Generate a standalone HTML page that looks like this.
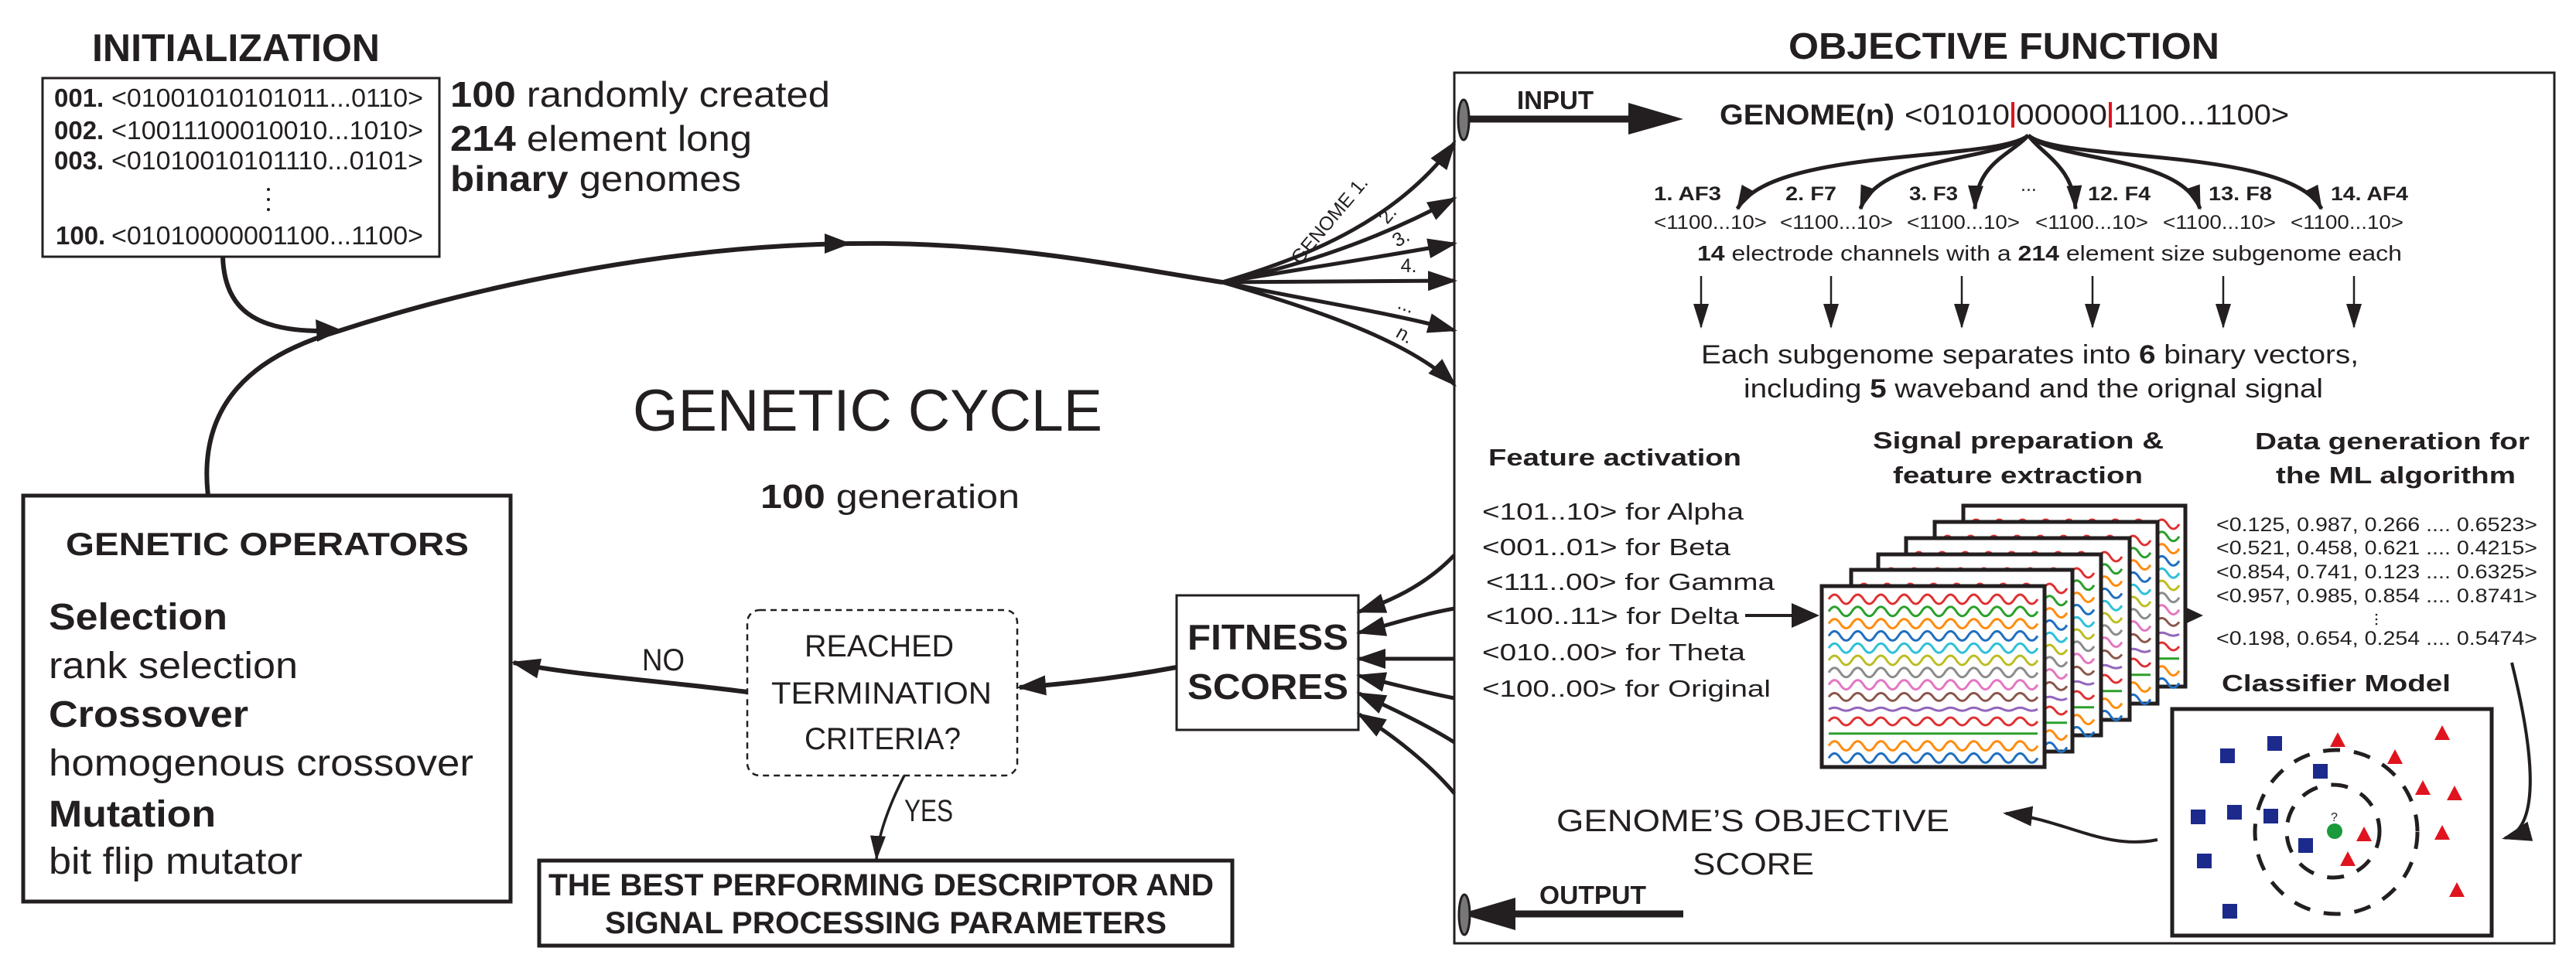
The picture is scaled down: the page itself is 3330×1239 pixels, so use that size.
<!DOCTYPE html>
<html><head><meta charset="utf-8"><style>
html,body{margin:0;padding:0;background:#fff;}
svg{display:block;}
text{font-family:"Liberation Sans",sans-serif;fill:#231f20;}
.b{font-weight:bold;}
</style></head><body>
<svg width="3330" height="1239" viewBox="0 0 3330 1239" xmlns="http://www.w3.org/2000/svg">
<defs>
<marker id="ah" markerUnits="userSpaceOnUse" markerWidth="40" markerHeight="26" refX="34" refY="13" orient="auto"><path d="M0,0 L38,13 L0,26 z" fill="#231f20"/></marker>
<marker id="as" markerUnits="userSpaceOnUse" markerWidth="34" markerHeight="20" refX="30" refY="10" orient="auto"><path d="M0,0 L32,10 L0,20 z" fill="#231f20"/></marker>
<g id="waves" fill="none" stroke-width="3">
<path stroke="#e03030" d="M0,0 q7.5,-12 15,0 t15,0 t15,0 t15,0 t15,0 t15,0 t15,0 t15,0 t15,0 t15,0 t15,0 t15,0 t15,0 t15,0 t15,0 t15,0 t15,0 t15,0"/>
<path stroke="#2ca02c" transform="translate(0,15.8)" d="M0,0 q7.5,-12 15,0 t15,0 t15,0 t15,0 t15,0 t15,0 t15,0 t15,0 t15,0 t15,0 t15,0 t15,0 t15,0 t15,0 t15,0 t15,0 t15,0 t15,0"/>
<path stroke="#ff8c10" transform="translate(0,31.6)" d="M0,0 q7.5,-12 15,0 t15,0 t15,0 t15,0 t15,0 t15,0 t15,0 t15,0 t15,0 t15,0 t15,0 t15,0 t15,0 t15,0 t15,0 t15,0 t15,0 t15,0"/>
<path stroke="#1f6fc0" transform="translate(0,47.4)" d="M0,0 q7.5,-12 15,0 t15,0 t15,0 t15,0 t15,0 t15,0 t15,0 t15,0 t15,0 t15,0 t15,0 t15,0 t15,0 t15,0 t15,0 t15,0 t15,0 t15,0"/>
<path stroke="#30c0d8" transform="translate(0,63.2)" d="M0,0 q7.5,-12 15,0 t15,0 t15,0 t15,0 t15,0 t15,0 t15,0 t15,0 t15,0 t15,0 t15,0 t15,0 t15,0 t15,0 t15,0 t15,0 t15,0 t15,0"/>
<path stroke="#bcbd22" transform="translate(0,79)" d="M0,0 q7.5,-12 15,0 t15,0 t15,0 t15,0 t15,0 t15,0 t15,0 t15,0 t15,0 t15,0 t15,0 t15,0 t15,0 t15,0 t15,0 t15,0 t15,0 t15,0"/>
<path stroke="#8c8c8c" transform="translate(0,94.8)" d="M0,0 q7.5,-12 15,0 t15,0 t15,0 t15,0 t15,0 t15,0 t15,0 t15,0 t15,0 t15,0 t15,0 t15,0 t15,0 t15,0 t15,0 t15,0 t15,0 t15,0"/>
<path stroke="#e377c2" transform="translate(0,110.6)" d="M0,0 q7.5,-12 15,0 t15,0 t15,0 t15,0 t15,0 t15,0 t15,0 t15,0 t15,0 t15,0 t15,0 t15,0 t15,0 t15,0 t15,0 t15,0 t15,0 t15,0"/>
<path stroke="#8c564b" transform="translate(0,126.4)" d="M0,0 q7.5,-10 15,0 t15,0 t15,0 t15,0 t15,0 t15,0 t15,0 t15,0 t15,0 t15,0 t15,0 t15,0 t15,0 t15,0 t15,0 t15,0 t15,0 t15,0"/>
<path stroke="#9467bd" transform="translate(0,142.2)" d="M0,0 q7.5,-4 15,0 t15,0 t15,0 t15,0 t15,0 t15,0 t15,0 t15,0 t15,0 t15,0 t15,0 t15,0 t15,0 t15,0 t15,0 t15,0 t15,0 t15,0"/>
<path stroke="#e03030" transform="translate(0,158)" d="M0,0 q7.5,-10 15,0 t15,0 t15,0 t15,0 t15,0 t15,0 t15,0 t15,0 t15,0 t15,0 t15,0 t15,0 t15,0 t15,0 t15,0 t15,0 t15,0 t15,0"/>
<path stroke="#2ca02c" transform="translate(0,173.8)" d="M0,0 L270,0"/>
<path stroke="#ff8c10" transform="translate(0,189.6)" d="M0,0 q7.5,-12 15,0 t15,0 t15,0 t15,0 t15,0 t15,0 t15,0 t15,0 t15,0 t15,0 t15,0 t15,0 t15,0 t15,0 t15,0 t15,0 t15,0 t15,0"/>
<path stroke="#1f6fc0" transform="translate(0,205.4)" d="M0,0 q7.5,-12 15,0 t15,0 t15,0 t15,0 t15,0 t15,0 t15,0 t15,0 t15,0 t15,0 t15,0 t15,0 t15,0 t15,0 t15,0 t15,0 t15,0 t15,0"/>
</g>
</defs>

<!-- INITIALIZATION -->
<text class="b" x="119" y="79" font-size="50" textLength="372" lengthAdjust="spacingAndGlyphs">INITIALIZATION</text>
<rect x="55" y="101" width="513" height="231" fill="none" stroke="#231f20" stroke-width="3"/>
<g font-size="33">
<text class="b" x="70" y="138">001.</text><text x="144" y="138" textLength="403" lengthAdjust="spacingAndGlyphs">&lt;01001010101011...0110&gt;</text>
<text class="b" x="70" y="180">002.</text><text x="144" y="180" textLength="403" lengthAdjust="spacingAndGlyphs">&lt;10011100010010...1010&gt;</text>
<text class="b" x="70" y="219">003.</text><text x="144" y="219" textLength="403" lengthAdjust="spacingAndGlyphs">&lt;01010010101110...0101&gt;</text>
<text class="b" x="72" y="316">100.</text><text x="144" y="316" textLength="403" lengthAdjust="spacingAndGlyphs">&lt;01010000001100...1100&gt;</text>
</g>
<g fill="#231f20"><circle cx="347" cy="245" r="2"/><circle cx="347" cy="258" r="2"/><circle cx="347" cy="271" r="2"/></g>
<g font-size="46">
<text x="582" y="138" textLength="491" lengthAdjust="spacingAndGlyphs"><tspan class="b">100</tspan> randomly created</text>
<text x="582" y="195" textLength="390" lengthAdjust="spacingAndGlyphs"><tspan class="b">214</tspan> element long</text>
<text x="582" y="247" textLength="376" lengthAdjust="spacingAndGlyphs"><tspan class="b">binary</tspan> genomes</text>
</g>

<!-- cycle -->
<g fill="none" stroke="#231f20" stroke-width="6">
<path d="M288,332 C290,400 330,428 415,428"/>
<path d="M269,641 C255,520 330,460 435,429 C600,375 850,318 1100,315 C1300,312 1450,345 1580,365"/>
</g>
<polygon points="442,427 408,413 410,442" fill="#231f20"/>
<polygon points="1100,315 1066,302 1066,328" fill="#231f20"/>
<g fill="none" stroke="#231f20" stroke-width="5" marker-end="url(#ah)">
<path d="M1580,365 C1700,330 1810,280 1880,185"/>
<path d="M1580,365 C1700,340 1800,300 1880,257"/>
<path d="M1580,365 C1700,345 1800,330 1880,315"/>
<path d="M1580,365 L1880,363"/>
<path d="M1580,365 C1700,390 1800,405 1880,427"/>
<path d="M1580,365 C1700,400 1820,440 1880,497"/>
</g>
<g font-size="25">
<text transform="translate(1725,290) rotate(-50)" text-anchor="middle">GENOME 1.</text>
<text transform="translate(1800,283) rotate(-50)" text-anchor="middle">2.</text>
<text transform="translate(1815,315) rotate(-30)" text-anchor="middle">3.</text>
<text x="1821" y="352" text-anchor="middle">4.</text>
<text transform="translate(1815,402) rotate(20)" text-anchor="middle">...</text>
<text transform="translate(1812,440) rotate(30)" text-anchor="middle">n.</text>
</g>
<text x="818" y="557" font-size="76" textLength="607" lengthAdjust="spacingAndGlyphs">GENETIC CYCLE</text>
<text x="983" y="657" font-size="44" textLength="335" lengthAdjust="spacingAndGlyphs"><tspan class="b">100</tspan> generation</text>

<!-- genetic operators -->
<rect x="30" y="641" width="630" height="525" fill="none" stroke="#231f20" stroke-width="5"/>
<text class="b" x="85" y="718" font-size="42" textLength="521" lengthAdjust="spacingAndGlyphs">GENETIC OPERATORS</text>
<g font-size="48">
<text class="b" x="63" y="814" textLength="231" lengthAdjust="spacingAndGlyphs">Selection</text>
<text x="63" y="877" textLength="322" lengthAdjust="spacingAndGlyphs">rank selection</text>
<text class="b" x="63" y="940" textLength="258" lengthAdjust="spacingAndGlyphs">Crossover</text>
<text x="63" y="1003" textLength="549" lengthAdjust="spacingAndGlyphs">homogenous crossover</text>
<text class="b" x="63" y="1069" textLength="216" lengthAdjust="spacingAndGlyphs">Mutation</text>
<text x="63" y="1130" textLength="328" lengthAdjust="spacingAndGlyphs">bit flip mutator</text>
</g>

<!-- termination -->
<rect x="966" y="789" width="349" height="214" rx="16" fill="none" stroke="#231f20" stroke-width="2.5" stroke-dasharray="8 6"/>
<g font-size="40">
<text x="1040" y="849" textLength="193" lengthAdjust="spacingAndGlyphs">REACHED</text>
<text x="997" y="910" textLength="285" lengthAdjust="spacingAndGlyphs">TERMINATION</text>
<text x="1040" y="969" textLength="202" lengthAdjust="spacingAndGlyphs">CRITERIA?</text>
<text x="830" y="867" textLength="55" lengthAdjust="spacingAndGlyphs">NO</text>
<text x="1169" y="1062" textLength="63" lengthAdjust="spacingAndGlyphs">YES</text>
</g>
<g fill="none" stroke="#231f20" stroke-width="6" marker-end="url(#ah)">
<path d="M966,895 C850,880 730,872 664,857"/>
<path d="M1521,863 C1440,878 1370,885 1318,889"/>
</g>
<path d="M1169,1003 C1150,1040 1135,1080 1133,1111" fill="none" stroke="#231f20" stroke-width="3.5" marker-end="url(#as)"/>

<!-- best box -->
<rect x="697" y="1113" width="896" height="110" fill="none" stroke="#231f20" stroke-width="5"/>
<g class="b" font-size="40" font-weight="bold">
<text x="709" y="1158" textLength="860" lengthAdjust="spacingAndGlyphs">THE BEST PERFORMING DESCRIPTOR AND</text>
<text x="782" y="1207" textLength="726" lengthAdjust="spacingAndGlyphs">SIGNAL PROCESSING PARAMETERS</text>
</g>

<!-- fitness -->
<rect x="1521" y="770" width="235" height="174" fill="none" stroke="#231f20" stroke-width="3"/>
<text class="b" x="1535" y="840" font-size="46" textLength="208" lengthAdjust="spacingAndGlyphs">FITNESS</text>
<text class="b" x="1535" y="904" font-size="46" textLength="208" lengthAdjust="spacingAndGlyphs">SCORES</text>
<g fill="none" stroke="#231f20" stroke-width="5" marker-end="url(#ah)">
<path d="M1880,718 C1840,760 1790,780 1757,791"/>
<path d="M1880,787 C1830,796 1790,810 1757,818"/>
<path d="M1880,852 L1757,852"/>
<path d="M1880,903 C1830,893 1790,882 1757,874"/>
<path d="M1880,960 C1840,935 1790,912 1757,897"/>
<path d="M1880,1026 C1850,990 1800,950 1757,924"/>
</g>

<!-- OBJECTIVE FUNCTION -->
<text class="b" x="2312" y="76" font-size="48" textLength="557" lengthAdjust="spacingAndGlyphs">OBJECTIVE FUNCTION</text>
<rect x="1880" y="94" width="1422" height="1126" fill="none" stroke="#231f20" stroke-width="3"/>
<line x1="1892" y1="154" x2="2110" y2="154" stroke="#231f20" stroke-width="9"/>
<polygon points="2176,154 2105,133 2105,174" fill="#231f20"/>
<ellipse cx="1892" cy="155" rx="7" ry="26" fill="#777" stroke="#231f20" stroke-width="3"/>
<text class="b" x="1961" y="141" font-size="33" textLength="99" lengthAdjust="spacingAndGlyphs">INPUT</text>
<text class="b" x="2223" y="161" font-size="37" textLength="226" lengthAdjust="spacingAndGlyphs">GENOME(n)</text>
<text x="2462" y="161" font-size="37" textLength="136" lengthAdjust="spacingAndGlyphs">&lt;01010</text>
<text x="2606" y="161" font-size="37" textLength="118" lengthAdjust="spacingAndGlyphs">00000</text>
<text x="2732" y="161" font-size="37" textLength="227" lengthAdjust="spacingAndGlyphs">1100...1100&gt;</text>
<rect x="2600" y="132" width="4" height="33" fill="#e0141e"/>
<rect x="2726" y="132" width="4" height="33" fill="#e0141e"/>

<g fill="none" stroke="#231f20" stroke-width="5" marker-end="url(#as)">
<path d="M2622,175 C2580,210 2290,190 2246,270"/>
<path d="M2622,175 C2580,210 2430,200 2405,270"/>
<path d="M2622,175 C2600,200 2555,210 2553,270"/>
<path d="M2622,175 C2640,200 2680,215 2683,270"/>
<path d="M2622,175 C2660,210 2820,200 2844,270"/>
<path d="M2622,175 C2660,210 2960,190 3001,270"/>
</g>
<g class="b" font-size="25" font-weight="bold">
<text x="2138" y="259" textLength="87" lengthAdjust="spacingAndGlyphs">1. AF3</text>
<text x="2308" y="259" textLength="66" lengthAdjust="spacingAndGlyphs">2. F7</text>
<text x="2468" y="259" textLength="63" lengthAdjust="spacingAndGlyphs">3. F3</text>
<text x="2612" y="247" font-weight="normal">...</text>
<text x="2699" y="259" textLength="81" lengthAdjust="spacingAndGlyphs">12. F4</text>
<text x="2855" y="259" textLength="82" lengthAdjust="spacingAndGlyphs">13. F8</text>
<text x="3013" y="259" textLength="100" lengthAdjust="spacingAndGlyphs">14. AF4</text>
</g>
<g font-size="25">
<text x="2138" y="296" textLength="146" lengthAdjust="spacingAndGlyphs">&lt;1100...10&gt;</text>
<text x="2301" y="296" textLength="146" lengthAdjust="spacingAndGlyphs">&lt;1100...10&gt;</text>
<text x="2465" y="296" textLength="146" lengthAdjust="spacingAndGlyphs">&lt;1100...10&gt;</text>
<text x="2631" y="296" textLength="146" lengthAdjust="spacingAndGlyphs">&lt;1100...10&gt;</text>
<text x="2796" y="296" textLength="146" lengthAdjust="spacingAndGlyphs">&lt;1100...10&gt;</text>
<text x="2961" y="296" textLength="146" lengthAdjust="spacingAndGlyphs">&lt;1100...10&gt;</text>
</g>
<text x="2194" y="337" font-size="28" textLength="911" lengthAdjust="spacingAndGlyphs"><tspan class="b">14</tspan> electrode channels with a <tspan class="b">214</tspan> element size subgenome each</text>
<g stroke="#231f20" stroke-width="2.5" marker-end="url(#as)">
<line x1="2199" y1="357" x2="2199" y2="423"/><line x1="2367" y1="357" x2="2367" y2="423"/>
<line x1="2536" y1="357" x2="2536" y2="423"/><line x1="2705" y1="357" x2="2705" y2="423"/>
<line x1="2874" y1="357" x2="2874" y2="423"/><line x1="3043" y1="357" x2="3043" y2="423"/>
</g>
<text x="2199" y="470" font-size="34" textLength="850" lengthAdjust="spacingAndGlyphs">Each subgenome separates into <tspan class="b">6</tspan> binary vectors,</text>
<text x="2254" y="514" font-size="34" textLength="749" lengthAdjust="spacingAndGlyphs">including <tspan class="b">5</tspan> waveband and the orignal signal</text>

<text class="b" x="1924" y="602" font-size="31" textLength="327" lengthAdjust="spacingAndGlyphs">Feature activation</text>
<text class="b" x="2421" y="580" font-size="31" textLength="376" lengthAdjust="spacingAndGlyphs">Signal preparation &amp;</text>
<text class="b" x="2447" y="625" font-size="31" textLength="323" lengthAdjust="spacingAndGlyphs">feature extraction</text>
<text class="b" x="2915" y="581" font-size="31" textLength="355" lengthAdjust="spacingAndGlyphs">Data generation for</text>
<text class="b" x="2942" y="625" font-size="31" textLength="310" lengthAdjust="spacingAndGlyphs">the ML algorithm</text>
<g font-size="31">
<text x="1916" y="672" textLength="338" lengthAdjust="spacingAndGlyphs">&lt;101..10&gt; for Alpha</text>
<text x="1916" y="718" textLength="321" lengthAdjust="spacingAndGlyphs">&lt;001..01&gt; for Beta</text>
<text x="1921" y="763" textLength="373" lengthAdjust="spacingAndGlyphs">&lt;111..00&gt; for Gamma</text>
<text x="1921" y="807" textLength="327" lengthAdjust="spacingAndGlyphs">&lt;100..11&gt; for Delta</text>
<text x="1916" y="854" textLength="340" lengthAdjust="spacingAndGlyphs">&lt;010..00&gt; for Theta</text>
<text x="1916" y="901" textLength="373" lengthAdjust="spacingAndGlyphs">&lt;100..00&gt; for Original</text>
</g>
<line x1="2256" y1="796" x2="2320" y2="796" stroke="#231f20" stroke-width="4"/>
<polygon points="2352,796 2316,780 2316,812" fill="#231f20"/>
<line x1="2780" y1="796" x2="2820" y2="796" stroke="#231f20" stroke-width="4"/>
<polygon points="2848,796 2814,780 2814,812" fill="#231f20"/>

<!-- panels back to front -->
<g stroke="#231f20" stroke-width="5">
<rect x="2538" y="654" width="287" height="234" fill="#fff"/><use href="#waves" transform="translate(2547,678)" stroke="none"/>
<rect x="2501" y="675" width="288" height="235" fill="#fff"/><use href="#waves" transform="translate(2510,699)" stroke="none"/>
<rect x="2464" y="696" width="289" height="235" fill="#fff"/><use href="#waves" transform="translate(2473,720)" stroke="none"/>
<rect x="2428" y="717" width="288" height="234" fill="#fff"/><use href="#waves" transform="translate(2437,741)" stroke="none"/>
<rect x="2393" y="737" width="286" height="235" fill="#fff"/><use href="#waves" transform="translate(2402,761)" stroke="none"/>
<rect x="2355" y="758" width="288" height="234" fill="#fff"/><use href="#waves" transform="translate(2364,775)" stroke="none"/>
</g>

<g font-size="25">
<text x="2865" y="687" textLength="415" lengthAdjust="spacingAndGlyphs">&lt;0.125, 0.987, 0.266 .... 0.6523&gt;</text>
<text x="2865" y="717" textLength="415" lengthAdjust="spacingAndGlyphs">&lt;0.521, 0.458, 0.621 .... 0.4215&gt;</text>
<text x="2865" y="748" textLength="415" lengthAdjust="spacingAndGlyphs">&lt;0.854, 0.741, 0.123 .... 0.6325&gt;</text>
<text x="2865" y="779" textLength="415" lengthAdjust="spacingAndGlyphs">&lt;0.957, 0.985, 0.854 .... 0.8741&gt;</text>
<text x="2865" y="834" textLength="415" lengthAdjust="spacingAndGlyphs">&lt;0.198, 0.654, 0.254 .... 0.5474&gt;</text>
</g>
<g fill="#231f20"><circle cx="3072" cy="795" r="1.3"/><circle cx="3072" cy="801" r="1.3"/><circle cx="3072" cy="807" r="1.3"/></g>
<text class="b" x="2872" y="894" font-size="31" textLength="296" lengthAdjust="spacingAndGlyphs">Classifier Model</text>
<rect x="2808" y="917" width="413" height="293" fill="none" stroke="#231f20" stroke-width="5"/>
<g fill="none" stroke="#231f20" stroke-width="5" stroke-dasharray="22 18">
<ellipse cx="3020" cy="1076" rx="105" ry="106"/>
<ellipse cx="3016" cy="1075" rx="60" ry="60"/>
</g>
<circle cx="3018" cy="1075" r="10" fill="#1a9a3a"/>
<text x="3013" y="1062" font-size="16">?</text>
<g fill="#1c2a8c">
<rect x="2870" y="968" width="19" height="19"/><rect x="2931" y="952" width="19" height="19"/>
<rect x="2990" y="988" width="19" height="19"/><rect x="2832" y="1047" width="19" height="19"/>
<rect x="2879" y="1041" width="19" height="19"/><rect x="2926" y="1046" width="19" height="19"/>
<rect x="2971" y="1084" width="19" height="19"/><rect x="2840" y="1104" width="19" height="19"/>
<rect x="2873" y="1169" width="19" height="19"/>
</g>
<g fill="#e0141e">
<polygon points="3022,947 3012,966 3032,966"/><polygon points="3157,938 3147,957 3167,957"/>
<polygon points="3096,969 3086,988 3106,988"/><polygon points="3132,1009 3122,1028 3142,1028"/>
<polygon points="3173,1016 3163,1035 3183,1035"/><polygon points="3056,1069 3046,1088 3066,1088"/>
<polygon points="3157,1067 3147,1086 3167,1086"/><polygon points="3035,1101 3025,1120 3045,1120"/>
<polygon points="3176,1141 3166,1160 3186,1160"/>
</g>
<g fill="none" stroke="#231f20" stroke-width="4" marker-end="url(#ah)">
<path d="M3247,857 C3270,950 3290,1070 3238,1084"/>
<path d="M2789,1086 C2720,1100 2670,1060 2593,1052"/>
</g>
<text x="2012" y="1075" font-size="40" textLength="508" lengthAdjust="spacingAndGlyphs">GENOME’S OBJECTIVE</text>
<text x="2188" y="1131" font-size="40" textLength="157" lengthAdjust="spacingAndGlyphs">SCORE</text>

<line x1="2176" y1="1182" x2="1950" y2="1182" stroke="#231f20" stroke-width="9"/>
<polygon points="1888,1182 1959,1161 1959,1203" fill="#231f20"/>
<ellipse cx="1893" cy="1183" rx="7" ry="26" fill="#777" stroke="#231f20" stroke-width="3"/>
<text class="b" x="1990" y="1169" font-size="33" textLength="138" lengthAdjust="spacingAndGlyphs">OUTPUT</text>
</svg>
</body></html>
